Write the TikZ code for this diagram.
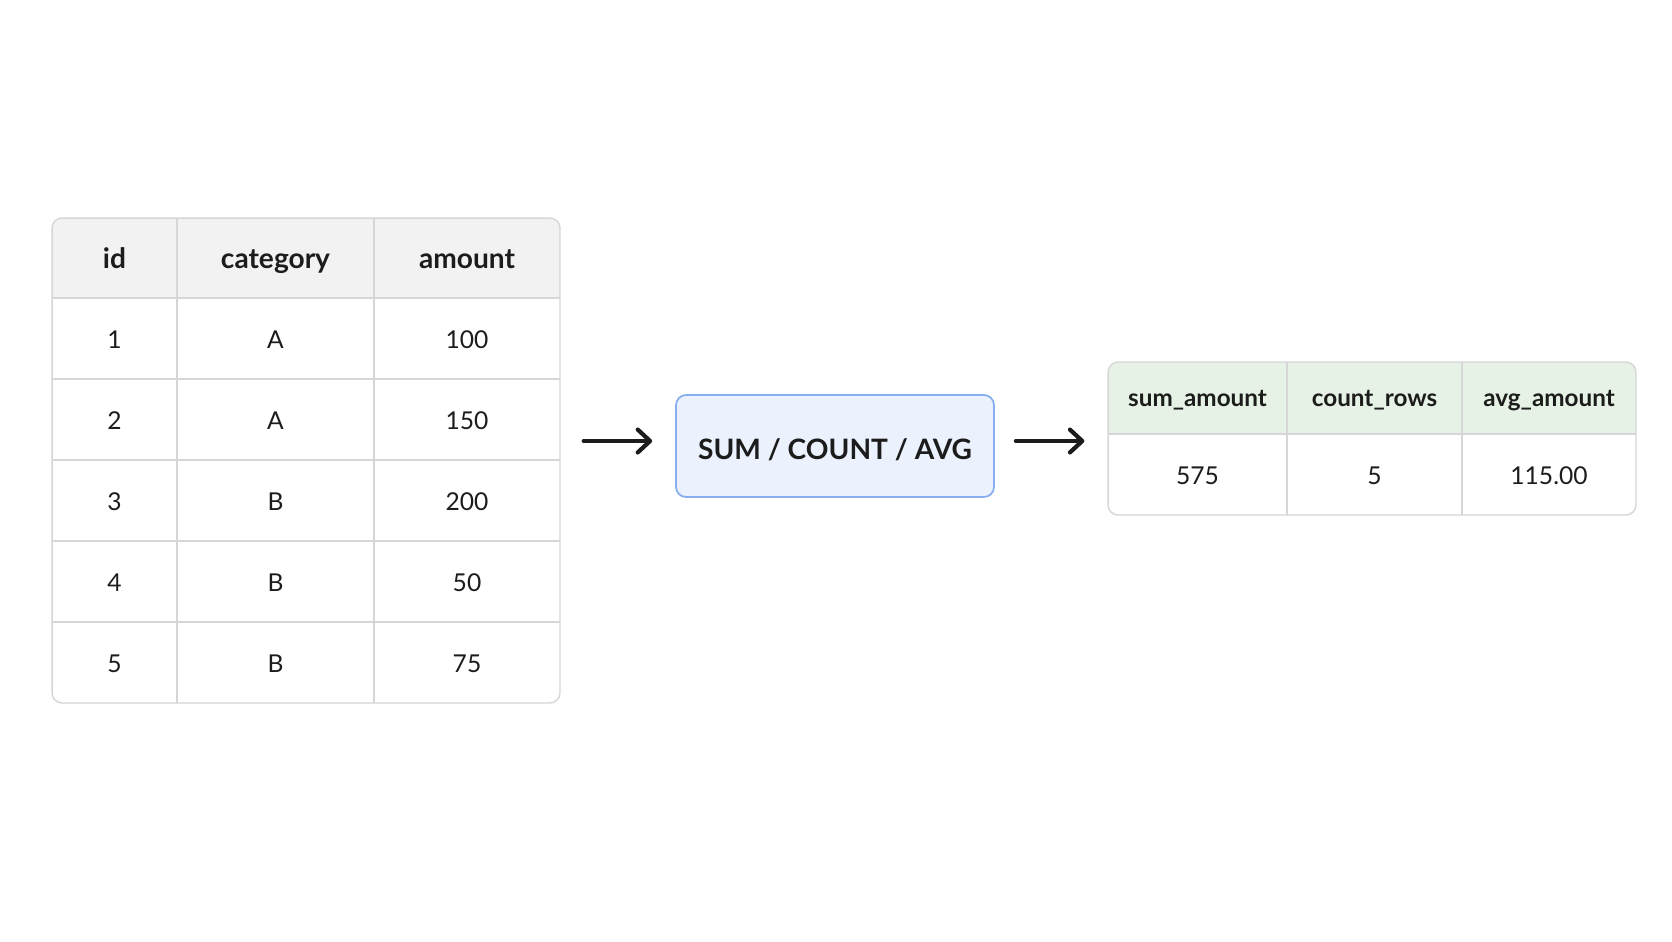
\documentclass[tikz,border=0pt]{standalone}
\usepackage{fontspec}
\setmainfont{Lato}
\usetikzlibrary{arrows.meta}

\definecolor{gridgray}{HTML}{D6D6D6}
\definecolor{headgray}{HTML}{F2F2F2}
\definecolor{headgreen}{HTML}{E6F2E5}
\definecolor{boxblue}{HTML}{EBF1FD}
\definecolor{boxedge}{HTML}{88AEF0}
\definecolor{inkblack}{HTML}{1C1C1C}

\tikzset{
  cellline/.style={gridgray, line width=0.8pt},
  tableframe/.style={draw=gridgray, line width=0.8pt, rounded corners=0.2cm, inner sep=0pt},
  headtext/.style={text=inkblack, font=\fontsize{16}{19}\selectfont\bfseries, text height=0.72em, text depth=0pt},
  celltext/.style={text=inkblack, font=\fontsize{14}{17}\selectfont, text height=0.72em, text depth=0pt},
  smallhead/.style={text=inkblack, font=\fontsize{13.8}{16}\selectfont\bfseries, text height=0.72em, text depth=0pt},
  flowarrow/.style={-{Straight Barb[length=7pt,width=13pt,round]}, inkblack, line width=2.4pt, line cap=round}
}

\begin{document}
\begin{tikzpicture}[x=0.02cm,y=-0.02cm]
\useasboundingbox[fill=white] (0,0) rectangle (1672,941);

% source table: header band, grid lines, frame
\begin{scope}
\clip[rounded corners=0.2cm] (52,218) rectangle (560,703);
\fill[headgray] (52,218) rectangle (560,298);
\end{scope}
\foreach \y in {298,379,460,541,622}
  \draw[cellline] (52,\y) -- (560,\y);
\foreach \x in {177,374}
  \draw[cellline] (\x,218) -- (\x,703);
\node[tableframe, minimum width=10.16cm, minimum height=9.7cm] (srctable) at (306,460.5) {};

% source table: column names
\node[headtext] (hid) at (114.5,262) {id};
\node[headtext] (hcat) at (275.5,262) {category};
\node[headtext] (hamt) at (467,262) {amount};

% source table: rows
\foreach \i/\c/\a [count=\r from 0] in {1/A/100,2/A/150,3/B/200,4/B/50,5/B/75} {
  \node[celltext] (id\i) at (114.5,342.5+81*\r) {\i};
  \node[celltext] (cat\i) at (275.5,342.5+81*\r) {\c};
  \node[celltext] (amt\i) at (467,342.5+81*\r) {\a};
}

% aggregate step
\node[draw=boxedge, fill=boxblue, line width=1pt, rounded corners=0.2cm,
      minimum width=6.36cm, minimum height=2.04cm, inner sep=0pt] (aggbox) at (835,446) {};
\node[headtext] (aggtext) at (835,453) {SUM / COUNT / AVG};

% result table: header band, grid lines, frame
\begin{scope}
\clip[rounded corners=0.2cm] (1108,362) rectangle (1636,515);
\fill[headgreen] (1108,362) rectangle (1636,434);
\end{scope}
\draw[cellline] (1108,434) -- (1636,434);
\foreach \x in {1287,1462}
  \draw[cellline] (\x,362) -- (\x,515);
\node[tableframe, minimum width=10.56cm, minimum height=3.06cm] (restable) at (1372,438.5) {};

% result table: column names and values
\node[smallhead] (hsum) at (1197.5,400) {sum\_amount};
\node[smallhead] (hcnt) at (1374.5,400) {count\_rows};
\node[smallhead] (havg) at (1549,400) {avg\_amount};
\node[celltext] (vsum) at (1197.5,478) {575};
\node[celltext] (vcnt) at (1374.5,478) {5};
\node[celltext] (vavg) at (1549,478) {115.00};

% arrows
\draw[flowarrow] ([xshift=0.46cm,yshift=0.1cm]srctable.east |- aggbox.west) -- ([xshift=-0.46cm,yshift=0.1cm]aggbox.west);
\draw[flowarrow] ([xshift=0.42cm,yshift=0.1cm]aggbox.east) -- ([xshift=-0.46cm,yshift=0.1cm]restable.west |- aggbox.east);

\end{tikzpicture}
\end{document}
